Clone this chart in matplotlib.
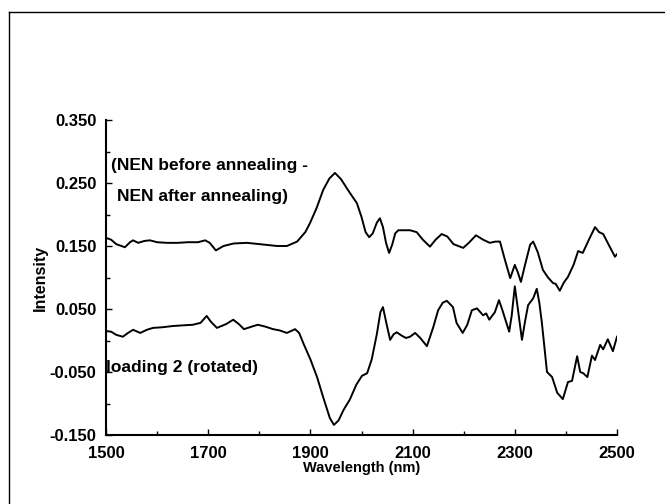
import matplotlib
matplotlib.use("Agg")
import matplotlib.pyplot as plt
from matplotlib.lines import Line2D
from matplotlib.ticker import MultipleLocator, FixedLocator, FormatStrFormatter

plt.rcParams['font.family'] = ['Liberation Sans', 'DejaVu Sans']
plt.rcParams['font.weight'] = 'bold'

# Difference spectrum (NEN before annealing - NEN after annealing)
diff_wl = [1500, 1510, 1520, 1537, 1547, 1553, 1563, 1575, 1586, 1600, 1620, 1640, 1660, 1680,
           1694, 1703, 1715, 1730, 1750, 1776, 1800, 1835, 1854, 1874, 1890, 1899, 1912, 1925,
           1937, 1948, 1960, 1975, 1991, 2000, 2008, 2015, 2022, 2030, 2036, 2042, 2048, 2054,
           2060, 2066, 2072, 2085, 2095, 2108, 2120, 2134, 2145, 2157, 2168, 2180, 2199, 2210,
           2224, 2238, 2251, 2262, 2271, 2280, 2291, 2300, 2306, 2312, 2320, 2330, 2336, 2345,
           2355, 2365, 2375, 2380, 2388, 2396, 2404, 2415, 2424, 2433, 2445, 2457, 2465, 2473,
           2485, 2496, 2500]
diff_val = [0.163, 0.160, 0.153, 0.148, 0.156, 0.159, 0.155, 0.158, 0.159, 0.156, 0.155, 0.155,
            0.156, 0.156, 0.159, 0.155, 0.143, 0.150, 0.154, 0.155, 0.153, 0.150, 0.150, 0.157,
            0.172, 0.186, 0.210, 0.239, 0.257, 0.266, 0.256, 0.237, 0.218, 0.196, 0.172, 0.164,
            0.170, 0.187, 0.194, 0.180, 0.155, 0.139, 0.152, 0.170, 0.175, 0.175, 0.175, 0.172,
            0.160, 0.149, 0.160, 0.169, 0.165, 0.153, 0.147, 0.155, 0.167, 0.160, 0.155, 0.157,
            0.157, 0.130, 0.099, 0.120, 0.108, 0.093, 0.120, 0.152, 0.157, 0.140, 0.112, 0.100,
            0.091, 0.090, 0.079, 0.092, 0.101, 0.120, 0.142, 0.139, 0.160, 0.180, 0.172, 0.169,
            0.150, 0.133, 0.137]

# Loading 2 (rotated)
load_wl = [1500, 1510, 1520, 1533, 1543, 1553, 1567, 1580, 1592, 1610, 1631, 1650, 1670, 1685,
           1697, 1705, 1717, 1735, 1749, 1760, 1770, 1785, 1797, 1812, 1827, 1840, 1854, 1862,
           1870, 1878, 1886, 1900, 1913, 1925, 1938, 1946, 1955, 1965, 1977, 1990, 2001, 2011,
           2020, 2030, 2037, 2042, 2048, 2056, 2063, 2069, 2078, 2087, 2095, 2105, 2115, 2128,
           2140, 2150, 2159, 2167, 2179, 2186, 2198, 2207, 2216, 2226, 2238, 2244, 2250, 2261,
           2269, 2275, 2289, 2294, 2300, 2306, 2314, 2320, 2326, 2336, 2343, 2348, 2353, 2363,
           2373, 2383, 2394, 2404, 2412, 2422, 2428, 2434, 2442, 2451, 2457, 2467, 2473, 2482,
           2492, 2500]
load_val = [0.015, 0.014, 0.009, 0.006, 0.012, 0.017, 0.012, 0.017, 0.020, 0.021, 0.023, 0.024,
            0.025, 0.028, 0.039, 0.030, 0.020, 0.026, 0.033, 0.026, 0.018, 0.022, 0.025, 0.022,
            0.018, 0.016, 0.012, 0.015, 0.018, 0.012, -0.004, -0.030, -0.058, -0.090, -0.123,
            -0.134, -0.127, -0.110, -0.094, -0.070, -0.056, -0.052, -0.030, 0.010, 0.045, 0.053,
            0.030, 0.001, 0.010, 0.013, 0.008, 0.004, 0.006, 0.012, 0.004, -0.009, 0.020, 0.048,
            0.060, 0.063, 0.053, 0.028, 0.012, 0.025, 0.048, 0.051, 0.040, 0.043, 0.033, 0.045,
            0.064, 0.050, 0.014, 0.040, 0.086, 0.050, 0.001, 0.030, 0.056, 0.067, 0.082, 0.060,
            0.028, -0.050, -0.058, -0.083, -0.093, -0.066, -0.064, -0.025, -0.050, -0.052, -0.058,
            -0.024, -0.031, -0.007, -0.014, 0.002, -0.017, 0.006]

y_major = [-0.150, -0.050, 0.050, 0.150, 0.250, 0.350]
y_minor = [-0.100, 0.000, 0.100, 0.200, 0.300]
x_major = [1500, 1700, 1900, 2100, 2300, 2500]

fig = plt.figure(figsize=(6.65, 5.04), dpi=100)
ax = fig.add_axes([106 / 665, 1 - 435 / 504, 511 / 665, 315 / 504])

ax.plot(diff_wl, diff_val, color='black', lw=1.4)
ax.plot(load_wl, load_val, color='black', lw=1.4)

ax.set_xlim(1500, 2500)
ax.set_ylim(-0.150, 0.350)
ax.yaxis.set_major_locator(FixedLocator(y_major))
ax.yaxis.set_minor_locator(FixedLocator(y_minor))
ax.yaxis.set_major_formatter(FormatStrFormatter('%.3f'))
ax.xaxis.set_major_locator(FixedLocator(x_major))
ax.xaxis.set_minor_locator(MultipleLocator(100))

for s in ['top', 'right']:
    ax.spines[s].set_visible(False)
for s in ['left', 'bottom']:
    ax.spines[s].set_linewidth(1.5)

ax.tick_params(axis='both', which='both', direction='in', width=1, labelsize=12)
ax.tick_params(axis='both', which='major', length=4)
ax.tick_params(axis='both', which='minor', length=3)
ax.tick_params(axis='y', pad=7)
ax.tick_params(axis='x', pad=8)

ax.set_xlabel('Wavelength (nm)', fontsize=10.5, fontweight='bold', labelpad=0)
ax.set_ylabel('Intensity', fontsize=11.5, fontweight='bold', labelpad=1)

ax.text(1510, 0.2775, '(NEN before annealing -', fontsize=12.5, fontweight='bold',
        va='center', ha='left')
ax.text(1521, 0.228, 'NEN after annealing)', fontsize=12.5, fontweight='bold',
        va='center', ha='left')
ax.text(1500, -0.0435, 'loading 2 (rotated)', fontsize=12.5, fontweight='bold',
        va='center', ha='left')

# outer frame (left and top edges)
fig.add_artist(Line2D([9 / 665, 9 / 665], [0, 1 - 12 / 504], transform=fig.transFigure,
                      color='black', lw=1))
fig.add_artist(Line2D([9 / 665, 1], [1 - 12 / 504, 1 - 12 / 504], transform=fig.transFigure,
                      color='black', lw=1))

fig.savefig('out.png', dpi=100)
